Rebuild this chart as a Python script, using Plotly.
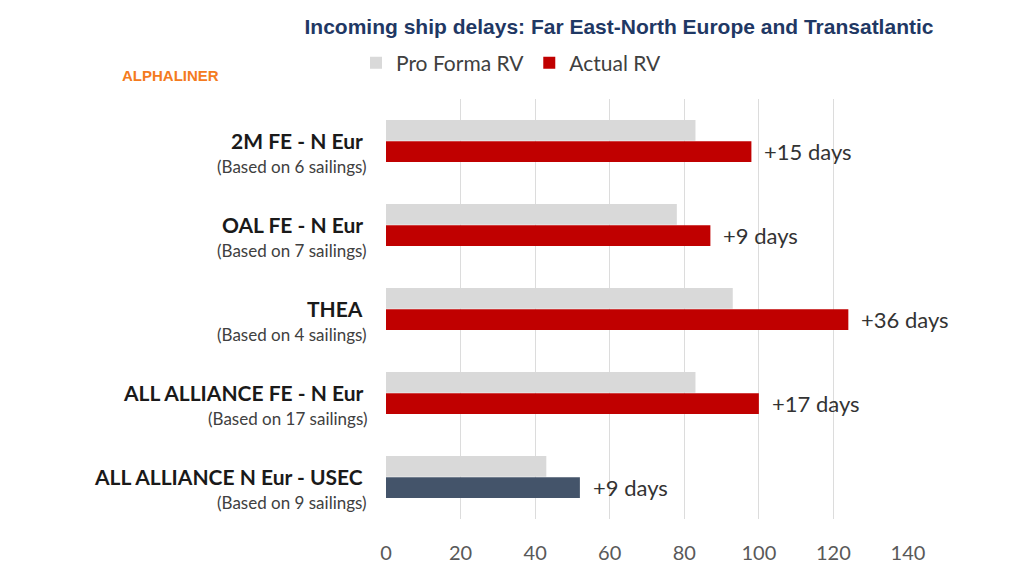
import plotly.graph_objects as go

# routes / chart values
routes = ["2M FE - N Eur", "OAL FE - N Eur", "THEA",
          "ALL ALLIANCE FE - N Eur", "ALL ALLIANCE N Eur - USEC"]
sailings = [6, 7, 4, 17, 9]
pro_forma = [83, 78, 93, 83, 43]
actual = [98, 87, 124, 100, 52]
delays = [15, 9, 36, 17, 9]
x_ticks = [0, 20, 40, 60, 80, 100, 120, 140]

actual_colors = ["#C00000", "#C00000", "#C00000", "#C00000", "#44546A"]

# plot area in pixels (for placing paper-referenced text)
L, R, T, B = 386, 116, 99, 57
PW, PH = 1024 - L - R, 576 - T - B


def px_x(px):
    return (px - L) / PW


def px_y(py):
    return (576 - B - py) / PH


fig = go.Figure()

fig.add_trace(go.Bar(
    y=routes, x=pro_forma, orientation="h", name="Pro Forma RV",
    marker=dict(color="#D9D9D9", line=dict(width=0)),
    hoverinfo="x",
))
fig.add_trace(go.Bar(
    y=routes, x=actual, orientation="h", name="Actual RV",
    marker=dict(color=actual_colors, line=dict(width=0)),
    hoverinfo="x",
))

annotations = []
for i, (route, n, a, d) in enumerate(zip(routes, sailings, actual, delays)):
    # route name + sailing count on the left
    annotations.append(dict(
        x=px_x(365), xref="paper", y=i, yref="y", yshift=1,
        xanchor="right", yanchor="middle",
        text="<b>%s</b>" % route, showarrow=False,
        font=dict(family="Lato", size=21, color="#1A1A1A"),
    ))
    annotations.append(dict(
        x=px_x(369), xref="paper", y=i, yref="y", yshift=-25,
        xanchor="right", yanchor="middle",
        text="(Based on %d sailings)" % n, showarrow=False,
        font=dict(family="Lato", size=17, color="#404040"),
    ))
    # delay label next to the actual bar
    annotations.append(dict(
        x=a, xref="x", y=i + 0.13, yref="y", xshift=11,
        xanchor="left", yanchor="middle",
        text="+%d days" % d, showarrow=False,
        font=dict(family="Lato", size=22, color="#333333"),
    ))

annotations.append(dict(
    x=px_x(170), xref="paper", y=px_y(76), yref="paper", showarrow=False,
    xanchor="center", yanchor="middle",
    text="<b>ALPHALINER</b>", font=dict(family="Liberation Sans", size=15, color="#F47B20"),
))

fig.update_layout(
    width=1024, height=576,
    margin=dict(l=L, r=R, t=T, b=B),
    paper_bgcolor="white", plot_bgcolor="white",
    barmode="group", bargap=0.49, bargroupgap=0.03,
    title=dict(
        text="<b>Incoming ship delays: Far East-North Europe and Transatlantic</b>",
        x=619 / 1024, xanchor="center", y=1 - 27 / 576, yanchor="middle",
        xref="container", yref="container",
        font=dict(family="Liberation Sans", size=21, color="#1F3864"),
    ),
    legend=dict(
        orientation="h", xref="container", yref="container",
        x=356 / 1024, xanchor="left", y=1 - 63 / 576, yanchor="middle",
        font=dict(family="Lato", size=21, color="#404040"),
        itemwidth=30, bgcolor="rgba(0,0,0,0)",
    ),
    xaxis=dict(
        range=[0, 140], tickvals=x_ticks, showgrid=True, gridcolor="#DCDCDC",
        gridwidth=1, zeroline=False, showline=False,
        ticks="outside", ticklen=16, tickcolor="rgba(0,0,0,0)",
        tickfont=dict(family="Lato", size=20, color="#595959"),
    ),
    yaxis=dict(
        autorange="reversed", showticklabels=False, showgrid=False,
        zeroline=False, showline=False,
    ),
    annotations=annotations,
)

# drop the default 8px page margin so the figure sits at the window origin
fig.write_html("out.html", config={"displayModeBar": False},
               post_script="document.body.style.margin='0';")
